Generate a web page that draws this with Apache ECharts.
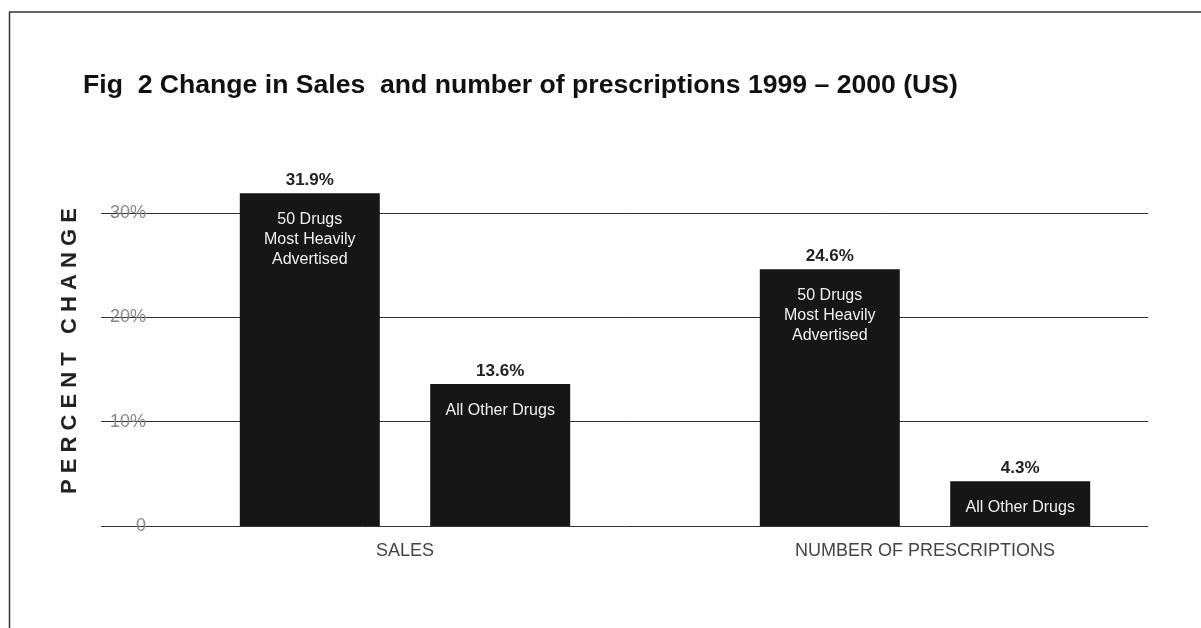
<!DOCTYPE html>
<html>
<head>
<meta charset="utf-8">
<script src="https://cdn.jsdelivr.net/npm/echarts@6/dist/echarts.min.js"></script>
<style>
  html, body { margin: 0; padding: 0; background: #fff; }
  #chart { width: 1201px; height: 628px; }
</style>
</head>
<body>
<div id="chart"></div>
<script>
const categories = ['SALES', 'NUMBER OF PRESCRIPTIONS'];
const heavyNames = ['50 Drugs', 'Most Heavily', 'Advertised'];
const heavyValues = [31.9, 24.6];
const otherNames = ['All Other Drugs'];
const otherValues = [13.6, 4.3];
const yTicks = [0, 10, 20, 30];

var chart = echarts.init(document.getElementById('chart'));

function barLabel(lines) {
    return {
        show: true,
        position: 'insideTop',
        distance: 0,
        offset: [0, -24],
        formatter: function (p) {
            return '{v|' + p.value + '%}\n{g| }\n' + lines.map(function (l) { return '{t|' + l + '}'; }).join('\n');
        },
        rich: {
            v: { fontFamily: 'Liberation Sans', fontSize: 17, fontWeight: 'bold', color: '#222', lineHeight: 22 },
            g: { fontSize: 10, lineHeight: 18 },
            t: { fontFamily: 'Liberation Sans', fontSize: 16, color: '#f0f0f0', lineHeight: 20 }
        }
    };
}

chart.setOption({
    backgroundColor: '#fff',
    animation: false,
    title: {
        text: 'Fig  2 Change in Sales  and number of prescriptions 1999 \u2013 2000 (US)',
        left: 78,
        top: 67,
        textStyle: {
            fontFamily: 'Liberation Sans',
            fontSize: 26.6,
            fontWeight: 'bold',
            color: '#111'
        }
    },
    graphic: [
        { type: 'line', shape: { x1: 9.5, y1: 12, x2: 9.5, y2: 628 }, style: { stroke: '#333', lineWidth: 1.5 } },
        { type: 'line', shape: { x1: 9, y1: 12, x2: 1201, y2: 12 }, style: { stroke: '#333', lineWidth: 1.5 } }
    ],
    grid: [
        { left: 101, right: 53, top: 213, bottom: 102 },
        { left: 145, right: 16, top: 213, bottom: 102 }
    ],
    xAxis: [
        { gridIndex: 0, type: 'value', show: false, min: 0, max: 1 },
        {
            gridIndex: 1,
            type: 'category',
            data: categories,
            axisLine: { show: false },
            axisTick: { show: false },
            axisLabel: {
                margin: 16,
                fontFamily: 'Liberation Sans',
                fontSize: 18,
                color: '#444'
            }
        }
    ],
    yAxis: [
        {
            gridIndex: 0,
            type: 'value',
            min: 0,
            max: 30,
            interval: 10,
            name: 'P E R C E N T   C H A N G E',
            nameLocation: 'middle',
            nameRotate: 90,
            nameGap: 20,
            nameMoveOverlap: false,
            nameTextStyle: {
                fontFamily: 'Liberation Sans',
                fontSize: 22,
                fontWeight: 'bold',
                color: '#222',
                padding: [0, 0, 0, 37]
            },
            axisLine: { show: false },
            axisTick: { show: false },
            axisLabel: {
                margin: -45,
                align: 'right',
                fontFamily: 'Liberation Sans',
                fontSize: 18,
                color: '#888',
                formatter: function (v) { return v === 0 ? '0' : v + '%'; }
            },
            splitLine: { lineStyle: { color: '#333', width: 1 } }
        },
        { gridIndex: 1, type: 'value', min: 0, max: 30, interval: 10, show: false, splitLine: { show: false } }
    ],
    series: [
        {
            name: heavyNames.join(' '),
            type: 'bar',
            xAxisIndex: 1,
            yAxisIndex: 1,
            data: heavyValues,
            barWidth: 140,
            barGap: '36%',
            clip: false,
            itemStyle: { color: '#161616' },
            label: barLabel(heavyNames)
        },
        {
            name: otherNames.join(' '),
            type: 'bar',
            xAxisIndex: 1,
            yAxisIndex: 1,
            data: otherValues,
            barWidth: 140,
            barGap: '36%',
            clip: false,
            itemStyle: { color: '#161616' },
            label: barLabel(otherNames)
        }
    ]
});
</script>
</body>
</html>
